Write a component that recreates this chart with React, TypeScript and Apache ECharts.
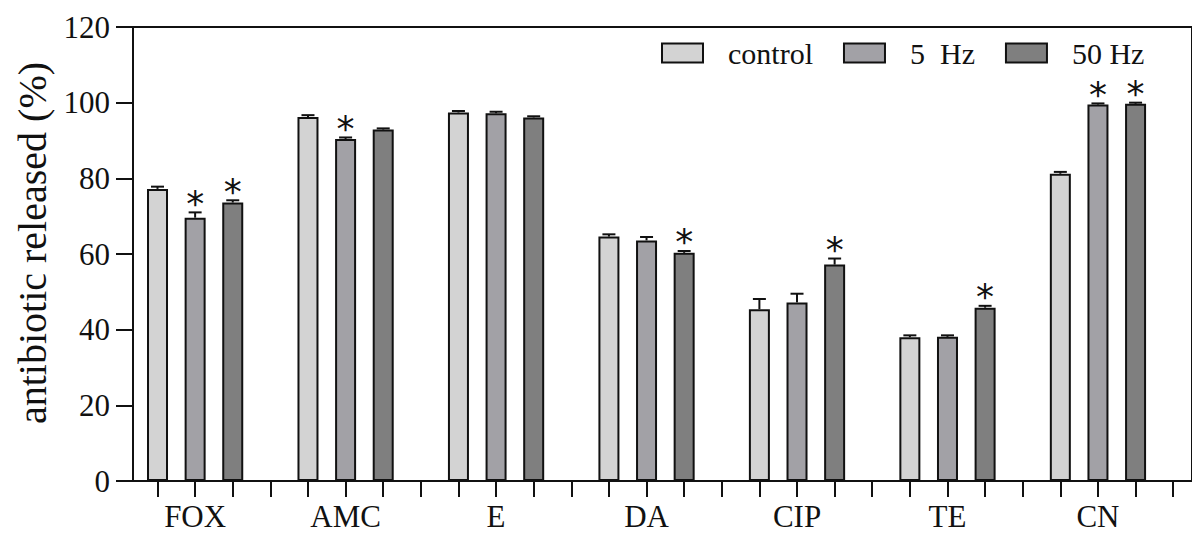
import React, { useEffect, useRef } from "react";
import * as echarts from "echarts";

const groups = ["FOX", "AMC", "E", "DA", "CIP", "TE", "CN"];
const seriesNames = ["control", "5  Hz", "50 Hz"];
const controlVals = [77.2, 96.2, 97.4, 64.6, 45.4, 38.0, 81.2];
const hz5Vals = [69.6, 90.4, 97.2, 63.6, 47.2, 38.1, 99.5];
const hz50Vals = [73.6, 92.9, 96.1, 60.3, 57.2, 45.8, 99.7];
const controlErr = [0.6, 0.5, 0.4, 0.6, 2.7, 0.5, 0.5];
const hz5Err = [1.4, 0.4, 0.4, 0.9, 2.3, 0.4, 0.3];
const hz50Err = [0.6, 0.3, 0.3, 0.5, 1.6, 0.5, 0.3];
const controlSig = [false, false, false, false, false, false, false];
const hz5Sig = [true, true, false, false, false, false, true];
const hz50Sig = [true, false, false, true, true, true, true];
const yTicks = [0, 20, 40, 60, 80, 100, 120];

const colors = ["#d3d3d3", "#a2a1a6", "#7f7f7f"];
const FONT = "'Liberation Serif', 'DejaVu Serif', serif";

export default function App() {
  const ref = useRef<HTMLDivElement>(null);
  useEffect(() => {
    if (!ref.current) return;
    const chart = echarts.init(ref.current, null, { renderer: "svg" });
    const slots = groups.length * 4;
    const cats: string[] = [];
    for (let i = 0; i < slots; i++) cats.push(`s${i}`);
    const vals = [controlVals, hz5Vals, hz50Vals];
    const errs = [controlErr, hz5Err, hz50Err];
    const sigs = [controlSig, hz5Sig, hz50Sig];
    const barSeries = vals.map((arr, k) => {
      const d: any[] = new Array(slots).fill("-");
      arr.forEach((v, i) => (d[i * 4 + k] = v));
      return {
        type: "bar",
        name: seriesNames[k],
        xAxisIndex: 1,
        yAxisIndex: 1,
        data: d,
        barWidth: 21,
        barGap: "-100%",
        itemStyle: { color: colors[k], borderColor: "#111", borderWidth: 2 },
        z: 2,
      };
    });
    const errData: any[] = [];
    vals.forEach((arr, k) =>
      arr.forEach((v, i) => errData.push([i * 4 + k, v, errs[k][i], sigs[k][i] ? 1 : 0]))
    );
    const yMin = yTicks[0];
    const yMax = yTicks[yTicks.length - 1];
    const yInt = yTicks[1] - yTicks[0];
    chart.setOption({
      animation: false,
      grid: [
        {
          left: 133,
          right: -30,
          top: 27,
          bottom: 58,
          show: true,
          borderColor: "#111",
          borderWidth: 2,
        },
        { left: 138.7, right: -26.9, top: 27, bottom: 58 },
      ],
      legend: {
        left: 656,
        top: 33,
        icon: "rect",
        itemWidth: 41,
        itemHeight: 19,
        itemGap: 30,
        data: seriesNames,
        textStyle: {
          fontFamily: FONT,
          fontSize: 30,
          color: "#111",
          padding: [0, 0, 0, 20],
        },
      },
      xAxis: [
        {
          type: "category",
          gridIndex: 0,
          data: ["a"],
          axisLine: { show: true, lineStyle: { color: "#111", width: 2 } },
          axisTick: { show: false },
          axisLabel: { show: false },
        },
        {
          type: "category",
          gridIndex: 1,
          data: cats,
          axisLine: { show: false },
          axisTick: {
            show: true,
            alignWithLabel: true,
            interval: 0,
            length: 16,
            lineStyle: { color: "#111", width: 2 },
          },
          axisLabel: {
            interval: 0,
            margin: 20,
            fontFamily: FONT,
            fontSize: 31,
            color: "#111",
            formatter: (_v: string, idx: number) =>
              idx % 4 === 1 ? groups[(idx - 1) / 4] : "",
          },
        },
      ],
      yAxis: [
        {
          type: "value",
          gridIndex: 0,
          min: yMin,
          max: yMax,
          interval: yInt,
          name: "antibiotic released (%)",
          nameLocation: "middle",
          nameGap: 72,
          nameTextStyle: {
            fontFamily: FONT,
            fontSize: 40,
            color: "#111",
            padding: [0, 0, 0, 22],
          },
          axisLine: { show: true, lineStyle: { color: "#111", width: 2 } },
          axisTick: { show: true, length: 17, lineStyle: { color: "#111", width: 2 } },
          axisLabel: { margin: 23, fontFamily: FONT, fontSize: 31, color: "#111" },
          splitLine: { show: false },
        },
        {
          type: "value",
          gridIndex: 1,
          min: yMin,
          max: yMax,
          interval: yInt,
          show: false,
        },
      ],
      series: [
        ...barSeries,
        {
          type: "custom",
          xAxisIndex: 1,
          yAxisIndex: 1,
          data: errData,
          z: 3,
          renderItem: (_p: any, api: any) => {
            const x = api.value(0);
            const v = api.value(1);
            const e = api.value(2);
            const s = api.value(3);
            const p0 = api.coord([x, v]);
            const p1 = api.coord([x, v + e]);
            const children: any[] = [
              {
                type: "line",
                shape: { x1: p0[0], y1: p0[1], x2: p1[0], y2: p1[1] },
                style: { stroke: "#111", lineWidth: 2 },
              },
              {
                type: "line",
                shape: { x1: p1[0] - 6.5, y1: p1[1], x2: p1[0] + 6.5, y2: p1[1] },
                style: { stroke: "#111", lineWidth: 2 },
              },
            ];
            if (s) {
              children.push({
                type: "text",
                x: p1[0],
                y: p1[1] + 9,
                style: {
                  text: "*",
                  fontFamily: "'DejaVu Sans', sans-serif",
                  fontSize: 36,
                  fill: "#111",
                  align: "center",
                  verticalAlign: "bottom",
                },
              });
            }
            return { type: "group", children };
          },
        },
      ],
    });
    return () => chart.dispose();
  }, []);
  return (
    <div
      ref={ref}
      style={{ position: "absolute", left: 0, top: 0, width: 1192, height: 539 }}
    />
  );
}
